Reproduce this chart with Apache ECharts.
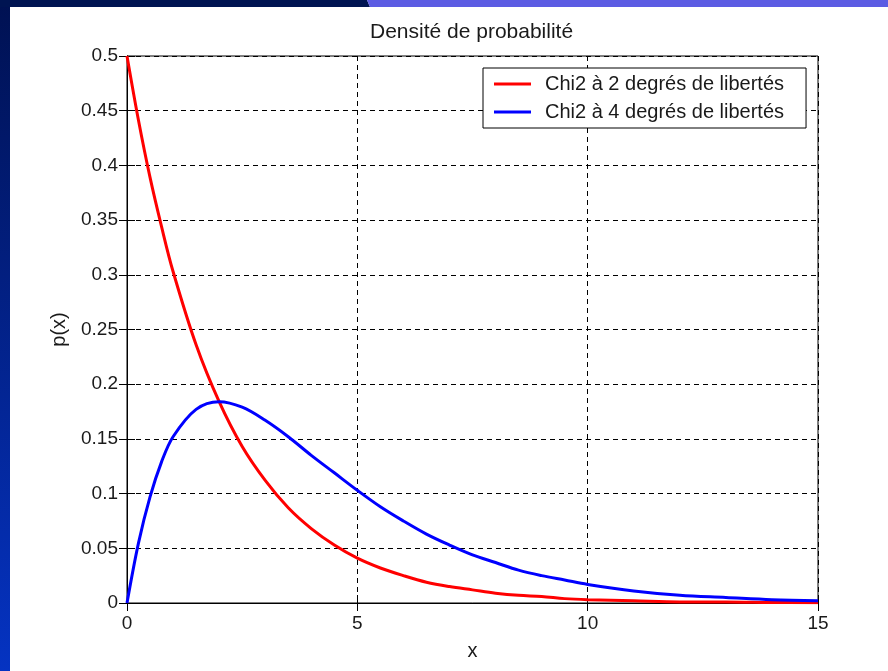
<!DOCTYPE html>
<html>
<head>
<meta charset="utf-8">
<script src="https://cdn.jsdelivr.net/npm/echarts@6/dist/echarts.min.js"></script>
<style>
  html, body { margin: 0; padding: 0; background: #ffffff; }
  #chart { width: 888px; height: 671px; }
</style>
</head>
<body>
<div id="chart"></div>
<script>
// Abscissa sample points
const xs = [0, 0.25, 0.5, 0.75, 1, 1.5, 2, 2.5, 3, 3.5, 4, 4.5, 5, 5.5, 6, 6.5, 7, 7.5, 8, 8.5, 9, 9.5, 10, 11, 12, 13, 14, 15];

// Density, chi-square with 2 degrees of freedom
const chi2k2 = [0.5, 0.441, 0.389, 0.344, 0.303, 0.236, 0.184, 0.143, 0.112, 0.087, 0.068, 0.053, 0.041, 0.032, 0.025, 0.019, 0.015, 0.012, 0.009, 0.007, 0.006, 0.004, 0.003, 0.002, 0.001, 0.001, 0.0005, 0.0003];

// Density, chi-square with 4 degrees of freedom
const chi2k4 = [0, 0.055, 0.097, 0.129, 0.152, 0.177, 0.184, 0.179, 0.167, 0.152, 0.135, 0.119, 0.103, 0.088, 0.075, 0.063, 0.053, 0.044, 0.037, 0.030, 0.025, 0.021, 0.017, 0.011, 0.007, 0.005, 0.003, 0.002];

const seriesNames = ['Chi2 à 2 degrés de libertés', 'Chi2 à 4 degrés de libertés'];
const titleText = 'Densité de probabilité';
const xName = 'x';
const yName = 'p(x)';

const FONT = "'Liberation Sans', Arial, sans-serif";
const TXT = '#1a1a1a';

const pairs = (ys) => xs.map((x, i) => [x, ys[i]]);

const chart = echarts.init(document.getElementById('chart'), null, { renderer: 'canvas' });

const dashed = { show: true, lineStyle: { color: '#000', width: 1, type: [5, 4] } };

chart.setOption({
  backgroundColor: '#ffffff',
  animation: false,
  graphic: [
    // slide frame: left band
    {
      type: 'rect', left: 0, top: 0, z: -10,
      shape: { width: 10, height: 671 },
      style: {
        fill: new echarts.graphic.LinearGradient(0, 0, 0, 1, [
          { offset: 0, color: '#001152' },
          { offset: 1, color: '#0533c2' }
        ])
      }
    },
    // slide frame: top band, dark part
    {
      type: 'polygon', z: -10,
      shape: { points: [[0, 0], [367, 0], [370, 7], [0, 7]] },
      style: { fill: '#001452' }
    },
    // slide frame: top band, light part
    {
      type: 'polygon', z: -10,
      shape: { points: [[367, 0], [888, 0], [888, 7], [370, 7]] },
      style: { fill: '#5c5ce3' }
    }
  ],
  title: {
    text: titleText,
    left: 365,
    top: 17,
    padding: 5,
    textStyle: { fontFamily: FONT, fontSize: 21, fontWeight: 'normal', color: TXT }
  },
  legend: {
    left: 483,
    top: 68,
    orient: 'vertical',
    icon: 'rect',
    itemWidth: 37,
    itemHeight: 3,
    itemGap: 0,
    itemTextGap: 14,
    padding: [2, 22, 2, 11],
    backgroundColor: '#ffffff',
    borderColor: '#000000',
    borderWidth: 1,
    borderRadius: 0,
    textStyle: {
      fontFamily: FONT, fontSize: 20, color: TXT, lineHeight: 28,
      padding: [0, 0, 0, 9]
    },
    data: seriesNames
  },
  grid: {
    left: 127, right: 70, top: 56, bottom: 68,
    show: true, borderColor: '#000', borderWidth: 1, backgroundColor: '#ffffff'
  },
  xAxis: [
    {
      type: 'value', min: 0, max: 15, interval: 5,
      name: xName, nameLocation: 'middle', nameGap: 38,
      nameTextStyle: { fontFamily: FONT, fontSize: 20, color: TXT },
      axisLine: { show: true, lineStyle: { color: '#000', width: 1 } },
      axisTick: { show: true, inside: true, length: 8, lineStyle: { color: '#000' } },
      axisLabel: { fontFamily: FONT, fontSize: 19, color: TXT, margin: 11 },
      splitLine: dashed
    },
    {
      type: 'value', min: 0, max: 15, interval: 5, position: 'top',
      axisLine: { show: true, lineStyle: { color: '#000', width: 1 } },
      axisTick: { show: true, inside: true, length: 8, lineStyle: { color: '#000' } },
      axisLabel: { show: false },
      splitLine: { show: false }
    }
  ],
  yAxis: [
    {
      type: 'value', min: 0, max: 0.5, interval: 0.05,
      name: yName, nameLocation: 'middle', nameGap: 58, nameRotate: 90,
      nameTextStyle: { fontFamily: FONT, fontSize: 20, color: TXT },
      axisLine: { show: true, lineStyle: { color: '#000', width: 1 } },
      axisTick: { show: true, inside: true, length: 8, lineStyle: { color: '#000' } },
      axisLabel: { fontFamily: FONT, fontSize: 19, color: TXT, margin: 9 },
      splitLine: dashed
    },
    {
      type: 'value', min: 0, max: 0.5, interval: 0.05, position: 'right',
      axisLine: { show: true, lineStyle: { color: '#000', width: 1 } },
      axisTick: { show: true, inside: true, length: 8, lineStyle: { color: '#000' } },
      axisLabel: { show: false },
      splitLine: { show: false }
    }
  ],
  series: [
    {
      name: seriesNames[0],
      type: 'line',
      data: pairs(chi2k2),
      smooth: 0.35,
      symbol: 'none',
      clip: true,
      color: '#ff0000',
      lineStyle: { color: '#ff0000', width: 3 },
      itemStyle: { color: '#ff0000' },
      z: 3
    },
    {
      name: seriesNames[1],
      type: 'line',
      data: pairs(chi2k4),
      smooth: 0.35,
      symbol: 'none',
      clip: true,
      color: '#0000ff',
      lineStyle: { color: '#0000ff', width: 3 },
      itemStyle: { color: '#0000ff' },
      z: 4
    }
  ]
});
</script>
</body>
</html>
